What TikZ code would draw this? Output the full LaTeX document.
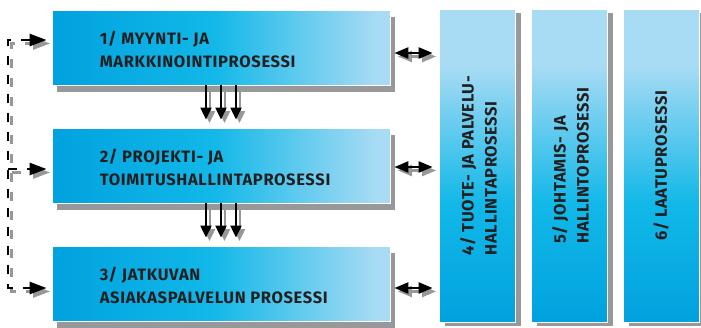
\documentclass[tikz,border=0pt]{standalone}
\usepackage{fontspec}
\setmainfont{Fira Sans}
\newfontfamily\dinfont{Fira Sans}[LetterSpace=4]
\usetikzlibrary{arrows.meta,calc,shadows}
\definecolor{cdark}{HTML}{00A2DF}
\definecolor{cbright}{HTML}{12B8E8}
\definecolor{clight}{HTML}{A8DBF4}
\definecolor{shadowgray}{HTML}{98989A}
\definecolor{txt}{HTML}{231F20}
\pgfdeclarehorizontalshading{hshade}{100bp}{color(0bp)=(cdark); color(25bp)=(cdark); color(49bp)=(cbright); color(73bp)=(clight); color(100bp)=(clight)}
\pgfdeclareverticalshading{vshade}{100bp}{color(0bp)=(cdark); color(25bp)=(cdark); color(44bp)=(cbright); color(66bp)=(clight); color(100bp)=(clight)}
\tikzset{
  hbox/.style={rectangle, minimum width=338pt, minimum height=75pt, shading=hshade, draw=white, line width=0.8pt, inner sep=0pt,
    drop shadow={shadow xshift=5pt, shadow yshift=-7pt, fill=shadowgray, opacity=1}},
  vbox/.style={rectangle, minimum width=76pt, minimum height=313pt, shading=vshade, draw=white, line width=0.8pt, inner sep=0pt,
    drop shadow={shadow xshift=6pt, shadow yshift=-4pt, fill=shadowgray, opacity=1}},
  lbl/.style={font=\dinfont\bfseries\fontsize{16.5}{23}\selectfont, text=txt, align=left, inner sep=0pt},
  downarr/.style={line width=2pt, -{Triangle[length=12pt,width=11pt]}, shorten >=8pt},
  dblarr/.style={line width=2.4pt, {Triangle[length=14pt,width=11pt]}-{Triangle[length=14pt,width=11pt]}, shorten <=4pt, shorten >=6pt},
  dashline/.style={line width=2.5pt, dash pattern=on 9pt off 10pt, shorten >=5pt, shorten <=5pt},
  dashtip/.style={-{Triangle[length=17pt,width=12pt]}}
}
\begin{document}
\begin{tikzpicture}[x=1pt,y=-1pt]
\useasboundingbox (0,0) rectangle (701,327);
\node[hbox] (b1) at (221,47.5) {};
\node[hbox] (b2) at (221,165.5) {};
\node[hbox] (b3) at (221,283.5) {};
\node[vbox] (p4) at (477,165.5) {};
\node[vbox] (p5) at (569,165.5) {};
\node[vbox] (p6) at (661,165.5) {};
\node[lbl, anchor=west] (t1) at ([xshift=48pt,yshift=-1.5pt]b1.west) {1/ MYYNTI- JA\\MARKKINOINTIPROSESSI};
\node[lbl, anchor=west] (t2) at ([xshift=48pt,yshift=-1.5pt]b2.west) {2/ PROJEKTI- JA\\TOIMITUSHALLINTAPROSESSI};
\node[lbl, anchor=west] (t3) at ([xshift=48pt,yshift=-1.5pt]b3.west) {3/ JATKUVAN\\ASIAKASPALVELUN PROSESSI};
\node[lbl, rotate=90] (t4) at ([xshift=1.5pt]p4.center) {4/ TUOTE- JA PALVELU-\\HALLINTAPROSESSI};
\node[lbl, rotate=90] (t5) at ([xshift=1.5pt]p5.center) {5/ JOHTAMIS- JA\\HALLINTOPROSESSI};
\node[lbl, rotate=90] (t6) at ([xshift=0pt]p6.center) {6/ LAATUPROSESSI};
\coordinate (c1) at (8,40);
\coordinate (c2) at (8,169);
\coordinate (c3) at (8,288);
\foreach \col/\s in {shadowgray/3.5, black/0}{
  \foreach \dx in {-15,0,15}{
    \draw[downarr, draw=\col] ([shift={(\dx pt+\s pt,-\s pt)}]b1.south) -- ([shift={(\dx pt+\s pt,-\s pt)}]b2.north);
    \draw[downarr, draw=\col] ([shift={(\dx pt+\s pt,-\s pt)}]b2.south) -- ([shift={(\dx pt+\s pt,-\s pt)}]b3.north);
  }
  \draw[dblarr, draw=\col] ([shift={(\s pt,-5.5pt-\s pt)}]b1.east) -- ([shift={(\s pt,-5.5pt-\s pt)}]b1.east -| p4.west);
  \draw[dblarr, draw=\col] ([shift={(\s pt,-1.5pt-\s pt)}]b2.east) -- ([shift={(\s pt,-1.5pt-\s pt)}]b2.east -| p4.west);
  \draw[dblarr, draw=\col] ([shift={(\s pt,-4.5pt-\s pt)}]b3.east) -- ([shift={(\s pt,-4.5pt-\s pt)}]b3.east -| p4.west);
  \draw[dashline, draw=\col, {Triangle[length=17pt,width=12pt]}-{Triangle[length=17pt,width=12pt]}]
     ([shift={(\s pt,-\s pt)}]c1 -| b1.west) -- ([shift={(\s pt,-\s pt)}]c1) -- ([shift={(\s pt,-\s pt)}]c3) -- ([shift={(\s pt,-\s pt)}]c3 -| b3.west);
  \draw[dashline, shorten <=0pt, draw=\col, dashtip] ([shift={(\s pt,-\s pt)}]c2) -- ([shift={(\s pt,-\s pt)}]c2 -| b2.west);
}
\end{tikzpicture}
\end{document}
